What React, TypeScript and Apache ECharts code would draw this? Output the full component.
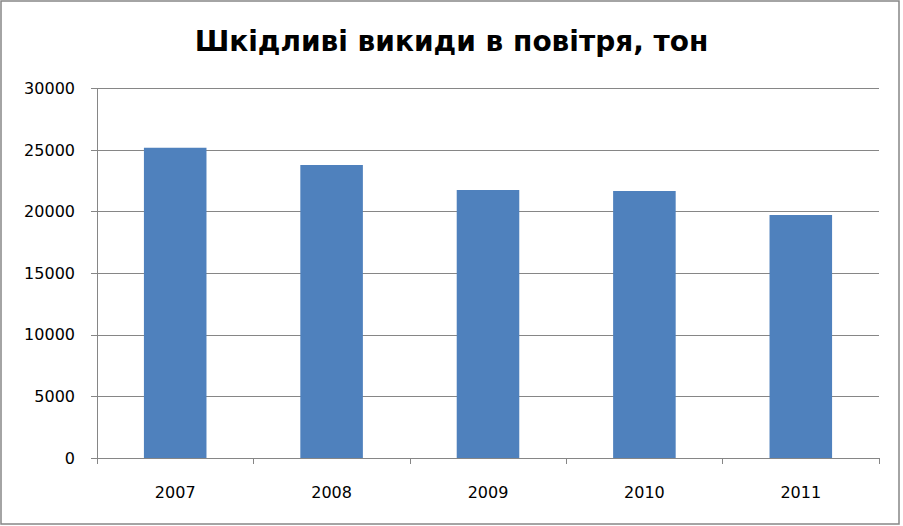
import React, { useEffect, useRef } from "react";
import * as echarts from "echarts";

const titleText = "Шкідливі викиди в повітря, тон";
const years = ["2007", "2008", "2009", "2010", "2011"];
const emissions = [25190, 23790, 21760, 21680, 19730];
const yMin = 0;
const yMax = 30000;
const yStep = 5000;

export default function App() {
  const ref = useRef<HTMLDivElement>(null);
  useEffect(() => {
    if (!ref.current) return;
    const chart = echarts.init(ref.current, undefined, { renderer: "svg" });
    const gray = "#868686";
    const font = "'DejaVu Sans', sans-serif";
    chart.setOption({
      animation: false,
      backgroundColor: "#ffffff",
      title: {
        text: titleText,
        left: "center",
        top: 22,
        textStyle: { fontFamily: font, fontWeight: "bold", fontSize: 28, color: "#000000" },
      },
      graphic: [
        {
          type: "rect",
          shape: { x: 1, y: 1, width: 898, height: 523 },
          style: { fill: "none", stroke: gray, lineWidth: 1.5 },
          silent: true,
        },
      ],
      grid: { left: 97, right: 24, top: 88.5, bottom: 68, containLabel: false },
      xAxis: {
        type: "category",
        data: years,
        axisLine: { show: true, lineStyle: { color: gray, width: 1 } },
        axisTick: { show: true, length: 6, lineStyle: { color: gray } },
        axisLabel: { margin: 26, fontFamily: font, fontSize: 16, color: "#000000" },
      },
      yAxis: {
        type: "value",
        min: yMin,
        max: yMax,
        interval: yStep,
        axisLine: { show: true, lineStyle: { color: gray, width: 1 } },
        axisTick: { show: true, length: 6, lineStyle: { color: gray } },
        splitLine: { show: true, lineStyle: { color: gray, width: 1 } },
        axisLabel: {
          margin: 22,
          fontFamily: font,
          fontSize: 16,
          color: "#000000",
          formatter: (v: number) => String(v),
        },
      },
      series: [
        {
          type: "bar",
          data: emissions,
          barWidth: "40%",
          itemStyle: { color: "#4F81BD" },
        },
      ],
    });
    return () => chart.dispose();
  }, []);
  return (
    <div
      ref={ref}
      style={{ position: "fixed", left: 0, top: 0, width: 903, height: 526, background: "#fff" }}
    />
  );
}
